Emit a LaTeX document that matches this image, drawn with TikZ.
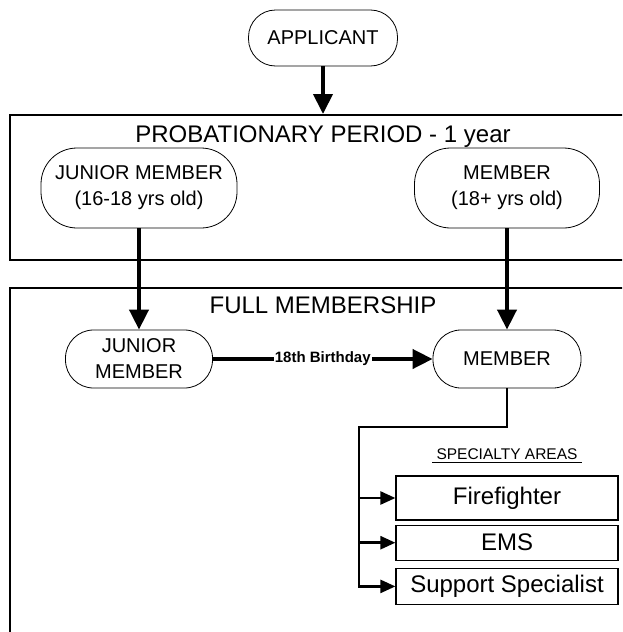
\documentclass[tikz,border=0pt]{standalone}
\usepackage{fontspec}
\setmainfont{Liberation Sans}
\usetikzlibrary{arrows.meta,positioning}
\tikzset{
  termbox/.style={draw, line width=0.8pt, rounded corners=27pt, align=center, inner sep=0pt, font=\fontsize{20}{26}\selectfont},
  framebox/.style={draw, line width=1.6pt, minimum width=626pt, anchor=north, inner sep=0pt},
  titletext/.style={anchor=base, inner sep=0pt, font=\fontsize{24}{28}\selectfont},
  areabox/.style={draw, line width=1.2pt, minimum width=222pt, inner sep=0pt, font=\fontsize{24}{28}\selectfont},
  arrow/.style={-{Triangle[width=19pt,length=20pt]}, line width=4pt},
  branch/.style={-{Triangle[width=13pt,length=15pt]}, line width=2.5pt},
}

\begin{document}
\begin{tikzpicture}[x=1pt, y=-1pt]
  \useasboundingbox (0,0) rectangle (622,632);
  \clip (0,0) rectangle (622,632);

  % applicant
  \node[termbox, minimum width=149pt, minimum height=56pt] (app) at (323,38) {APPLICANT};

  % probationary period
  \node[framebox, minimum height=145pt] (prob) at (323,114) {};
  \node[titletext] (probtitle) at ([yshift=-28pt]prob.north) {PROBATIONARY PERIOD - 1 year};
  \node[termbox, rounded corners=36pt, minimum width=196pt, minimum height=80pt] (jprob) at (139,188) {JUNIOR MEMBER\\(16-18 yrs old)};
  \node[termbox, rounded corners=36pt, minimum width=185pt, minimum height=80pt] (mprob) at (507,188) {MEMBER\\(18+ yrs old)};

  % full membership
  \node[framebox, minimum height=400pt] (full) at (323,287) {};
  \node[titletext] (fulltitle) at ([yshift=-26pt]full.north) {FULL MEMBERSHIP};
  \node[termbox, rounded corners=28pt, minimum width=147pt, minimum height=58pt] (jfull) at (139,359) {JUNIOR\\MEMBER};
  \node[termbox, rounded corners=28pt, minimum width=148pt, minimum height=58pt] (mfull) at (507,359) {MEMBER};

  \draw[arrow] (app) -- (prob.north);
  \draw[arrow] (jprob) -- (jfull);
  \draw[arrow] (mprob) -- (mfull);
  \draw[arrow] (jfull) -- node[fill=white, inner sep=1pt, font=\fontsize{15}{16}\selectfont\bfseries] (bday) {18th Birthday} (mfull);

  % specialty areas
  \node[areabox, minimum height=44pt] (fire) at (507,498) {Firefighter};
  \node[areabox, minimum height=35pt, below=4pt of fire] (ems) {EMS};
  \node[areabox, minimum height=36pt, below=7pt of ems] (supp) {Support Specialist};
  \node[font=\fontsize{15.5}{17}\selectfont, inner xsep=4pt, inner ysep=3pt, above=13pt of fire] (areas) {SPECIALTY AREAS};
  \draw[line width=1pt] (areas.south west) -- (areas.south east);

  % branch
  \coordinate (bend) at (359,427);
  \draw[branch] (mfull.south) |- (bend) |- (supp.west);
  \foreach \b in {fire,ems}
    \draw[branch] (bend |- \b.west) -- (\b.west);
\end{tikzpicture}
\end{document}
